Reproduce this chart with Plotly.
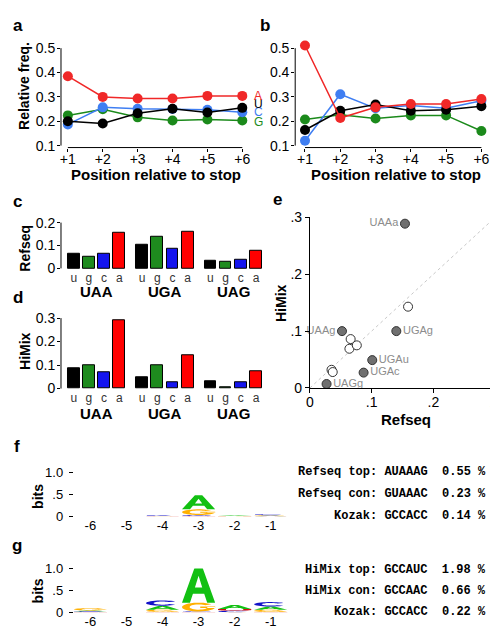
import numpy as np
import plotly.graph_objects as go

W, H = 498, 628

# ---------------- data ----------------
positions = [1, 2, 3, 4, 5, 6]
position_labels = ["+1", "+2", "+3", "+4", "+5", "+6"]
freq_ticks = [0.1, 0.2, 0.3, 0.4, 0.5]
bases = ["A", "U", "C", "G"]

# panel a (Refseq) relative frequencies after stop codon
refseq_pos_A = [0.385, 0.300, 0.293, 0.293, 0.304, 0.304]
refseq_pos_U = [0.200, 0.191, 0.233, 0.251, 0.236, 0.255]
refseq_pos_C = [0.187, 0.257, 0.251, 0.250, 0.247, 0.237]
refseq_pos_G = [0.224, 0.249, 0.216, 0.203, 0.207, 0.203]

# panel b (HiMix)
himix_pos_A = [0.511, 0.213, 0.257, 0.271, 0.271, 0.291]
himix_pos_U = [0.164, 0.243, 0.269, 0.243, 0.247, 0.262]
himix_pos_C = [0.120, 0.311, 0.253, 0.265, 0.253, 0.284]
himix_pos_G = [0.207, 0.227, 0.211, 0.224, 0.224, 0.160]

# panels c, d: stop codon + following base
stop_codons = ["UAA", "UGA", "UAG"]
next_bases = ["u", "g", "c", "a"]
refseq_UAA = [0.066, 0.052, 0.064, 0.154]
refseq_UGA = [0.101, 0.140, 0.087, 0.159]
refseq_UAG = [0.035, 0.027, 0.037, 0.076]
himix_UAA = [0.086, 0.100, 0.069, 0.289]
himix_UGA = [0.049, 0.100, 0.027, 0.143]
himix_UAG = [0.032, 0.007, 0.028, 0.075]
refseq_bar_ticks = [0, 0.1, 0.2]
himix_bar_ticks = [0, 0.1, 0.2, 0.3]

# panel e
highlighted = ["UAAa", "UAAg", "UGAg", "UGAu", "UGAc", "UAGg"]
label_left = ["UAAa", "UAAg"]
scatter_ticks = [0, 0.1, 0.2, 0.3]
scatter_tick_labels = ["0", ".1", ".2", ".3"]

# panels f, g: sequence logos (bits)
logo_positions = [-6, -5, -4, -3, -2, -1]
logo_ticks = [0, 0.5, 1.0]
logo_tick_labels = ["0", ".5", "1.0"]
refseq_bits_A = [0.0, 0.0, 0.005, 0.32, 0.015, 0.012]
refseq_bits_C = [0.0, 0.0, 0.018, 0.020, 0.003, 0.020]
refseq_bits_G = [0.0, 0.0, 0.004, 0.13, 0.003, 0.012]
refseq_bits_U = [0.0, 0.0, 0.003, 0.012, 0.002, 0.004]
himix_bits_A = [0.020, 0.0, 0.090, 0.82, 0.090, 0.075]
himix_bits_C = [0.015, 0.0, 0.120, 0.012, 0.035, 0.100]
himix_bits_G = [0.050, 0.0, 0.050, 0.20, 0.005, 0.050]
himix_bits_U = [0.010, 0.0, 0.012, 0.010, 0.040, 0.010]

refseq_text = [("Refseq top:", "AUAAAG", "0.55"), ("Refseq con:", "GUAAAC", "0.23"), ("Kozak:", "GCCACC", "0.14")]
himix_text = [("HiMix top:", "GCCAUC", "1.98"), ("HiMix con:", "GCCAAC", "0.66"), ("Kozak:", "GCCACC", "0.22")]

# ---------------- style ----------------
SANS = "Liberation Sans, Arial, sans-serif"
MONO = "Liberation Mono, Courier New, monospace"
line_colors = {"A": "#f02828", "U": "#000000", "C": "#3f7ef2", "G": "#1b8a1b"}
bar_colors = ["#000000", "#1e8b1e", "#1414ee", "#ff0000"]
logo_colors = {"A": "#12c012", "C": "#1212c8", "G": "#ffb000", "U": "#d01010"}


def xd(p0, p1):
    return [p0 / W, p1 / W]


def yd(top, bottom):
    return [1 - bottom / H, 1 - top / H]


def lin(p1, v1, p2, v2, pa, pb):
    s = (v2 - v1) / (p2 - p1)
    return [v1 + (pa - p1) * s, v1 + (pb - p1) * s]


fig = go.Figure()
shapes = []
annotations = []

# ---------------- panels a, b ----------------
series_a = {"A": refseq_pos_A, "U": refseq_pos_U, "C": refseq_pos_C, "G": refseq_pos_G}
series_b = {"A": himix_pos_A, "U": himix_pos_U, "C": himix_pos_C, "G": himix_pos_G}
label_shift_a = {"A": 0, "U": 4, "C": 0, "G": -1}
label_shift_b = {"A": 3, "U": -4, "C": -1, "G": 0}
for series, xa, ya, shifts, xs in [(series_a, "x", "y", label_shift_a, 10),
                                    (series_b, "x2", "y2", label_shift_b, 7)]:
    for b in ["G", "C", "U", "A"]:
        fig.add_trace(go.Scatter(x=positions, y=series[b], mode="lines+markers",
                                 line=dict(color=line_colors[b], width=1.5),
                                 marker=dict(color=line_colors[b], size=10),
                                 xaxis=xa, yaxis=ya, cliponaxis=False, showlegend=False))
        annotations.append(dict(x=positions[-1], y=series[b][-1], xref=xa, yref=ya, text=b,
                                showarrow=False, xanchor="left", yanchor="middle",
                                xshift=xs, yshift=shifts[b],
                                font=dict(family=SANS, size=12, color=line_colors[b])))
    shapes.append(dict(type="line", xref=xa + " domain", yref=ya, x0=0, x1=0,
                       y0=freq_ticks[0], y1=freq_ticks[-1], line=dict(color="black", width=1)))
    shapes.append(dict(type="line", xref=xa, yref=ya + " domain", x0=positions[0], x1=positions[-1],
                       y0=0, y1=0, line=dict(color="black", width=1)))

# ---------------- panels c, d ----------------
bar_x = [g * 4.5 + i for g in range(3) for i in range(4)]
refseq_bars = refseq_UAA + refseq_UGA + refseq_UAG
himix_bars = himix_UAA + himix_UGA + himix_UAG
for vals, xa, ya, ticks in [(refseq_bars, "x3", "y3", refseq_bar_ticks),
                            (himix_bars, "x4", "y4", himix_bar_ticks)]:
    fig.add_trace(go.Bar(x=bar_x, y=vals, width=0.77, marker=dict(color=bar_colors * 3,
                         line=dict(color="black", width=1)), xaxis=xa, yaxis=ya, showlegend=False))
    shapes.append(dict(type="line", xref=xa + " domain", yref=ya, x0=0, x1=0,
                       y0=ticks[0], y1=ticks[-1], line=dict(color="black", width=1)))

group_centers = [g * 4.5 + 1.5 for g in range(3)]
for gi, codon in enumerate(stop_codons):
    for xa, ypx in [("x3", 283), ("x4", 408)]:
        annotations.append(dict(x=group_centers[gi], y=1 - ypx / H, xref=xa, yref="paper",
                                text=f"<b>{codon}</b>", showarrow=False,
                                font=dict(family=SANS, size=15, color="black"), yanchor="middle"))

# ---------------- panel e ----------------
names = [c + b for c in stop_codons for b in next_bases]
hl = [n in highlighted for n in names]
open_x = [x for x, h in zip(refseq_bars, hl) if not h]
open_y = [y for y, h in zip(himix_bars, hl) if not h]
fill_x = [x for x, h in zip(refseq_bars, hl) if h]
fill_y = [y for y, h in zip(himix_bars, hl) if h]
fill_n = [n for n, h in zip(names, hl) if h]
shapes.append(dict(type="line", xref="x5", yref="y5", x0=scatter_ticks[0], y0=scatter_ticks[0],
                   x1=scatter_ticks[-1], y1=scatter_ticks[-1],
                   line=dict(color="#c8c8c8", width=1, dash="dot"), layer="below"))
fig.add_trace(go.Scatter(x=open_x, y=open_y, mode="markers", xaxis="x5", yaxis="y5",
                         marker=dict(size=9, color="white", line=dict(color="#333333", width=1)),
                         cliponaxis=False, showlegend=False))
fig.add_trace(go.Scatter(x=fill_x, y=fill_y, mode="markers+text", xaxis="x5", yaxis="y5",
                         text=fill_n,
                         textposition=["middle left" if n in label_left else "middle right" for n in fill_n],
                         textfont=dict(family=SANS, size=11, color="#8c8c8c"),
                         marker=dict(size=9, color="#707070", line=dict(color="#333333", width=1)),
                         cliponaxis=False, showlegend=False))


# ---------------- panels f, g (logos) ----------------
def glyph(letter):
    if letter == "A":
        outer = [(0, 0), (0.39, 1), (0.61, 1), (1, 0), (0.76, 0), (0.67, 0.25), (0.33, 0.25), (0.24, 0)]
        hole = [(0.39, 0.42), (0.61, 0.42), (0.5, 0.75)]
        return [outer, hole]
    if letter in ("C", "G"):
        a1 = 2 * np.pi * (320 / 360) if letter == "C" else 2 * np.pi
        ts = np.linspace(np.deg2rad(40), a1, 30)
        ring = [(0.5 + 0.5 * np.cos(t), 0.5 + 0.5 * np.sin(t)) for t in ts] + \
               [(0.5 + 0.27 * np.cos(t), 0.5 + 0.3 * np.sin(t)) for t in ts[::-1]]
        if letter == "C":
            return [ring]
        bar = [(0.55, 0.4), (1.0, 0.4), (1.0, 0.55), (0.55, 0.55)]
        return [ring, bar]
    # U
    ts = np.linspace(np.pi, 2 * np.pi, 20)
    pts = [(0, 1), (0, 0.4)] + [(0.5 + 0.5 * np.cos(t), 0.4 + 0.4 * np.sin(t)) for t in ts] + \
          [(1, 1), (0.76, 1), (0.76, 0.4)] + \
          [(0.5 + 0.26 * np.cos(t), 0.4 + 0.2 * np.sin(t)) for t in ts[::-1]] + [(0.24, 1)]
    return [pts]


def glyph_path(letter, xc, base, h):
    parts = []
    for poly in glyph(letter):
        pts = [(xc - 0.46 + u * 0.92, base + v * h) for u, v in poly]
        parts.append("M" + " L".join(f"{x:.5f},{y:.6f}" for x, y in pts) + " Z")
    return " ".join(parts)


for bits, xa, ya in [({"A": refseq_bits_A, "C": refseq_bits_C, "G": refseq_bits_G, "U": refseq_bits_U}, "x6", "y6"),
                     ({"A": himix_bits_A, "C": himix_bits_C, "G": himix_bits_G, "U": himix_bits_U}, "x7", "y7")]:
    fig.add_trace(go.Scatter(x=logo_positions, y=[0] * len(logo_positions), mode="markers",
                             marker=dict(size=1, opacity=0), xaxis=xa, yaxis=ya, showlegend=False,
                             hoverinfo="skip"))
    for i, p in enumerate(logo_positions):
        stack = sorted([(bits[b][i], b) for b in ["A", "C", "G", "U"]])
        base = 0.0
        for h, b in stack:
            if h <= 0:
                continue
            shapes.append(dict(type="path", xref=xa, yref=ya, path=glyph_path(b, p, base, h),
                               fillcolor=logo_colors[b], line=dict(width=0)))
            base += h

for lines, ys in [(refseq_text, [468, 491, 513]), (himix_text, [568, 590, 612])]:
    for (lab, seq, pct), ypx in zip(lines, ys):
        annotations.append(dict(x=486 / W, y=1 - ypx / H, xref="paper", yref="paper",
                                text=f"<b>{lab} {seq}  {pct} %</b>", showarrow=False,
                                xanchor="right", yanchor="middle",
                                font=dict(family=MONO, size=12, color="black")))


# ---------------- titles and panel letters ----------------
def txt(x, y, s, size=14, bold=True, angle=0, color="black"):
    annotations.append(dict(x=x / W, y=1 - y / H, xref="paper", yref="paper",
                            text=f"<b>{s}</b>" if bold else s, showarrow=False, textangle=angle,
                            xanchor="center", yanchor="middle",
                            font=dict(family=SANS, size=size, color=color)))


for s, x, y in [("a", 6, 10), ("b", 258, 10), ("c", 6, 190), ("d", 6, 289), ("e", 271, 188),
                ("f", 5, 442), ("g", 5, 543)]:
    txt(x, y, s, size=17)
txt(12, 72, "Relative freq.", 14, angle=-90)
txt(147, 163, "Position relative to stop", 15)
txt(392, 163, "Position relative to stop", 15)
txt(13, 238, "Refseq", 14, angle=-90)
txt(13, 344, "HiMix", 14, angle=-90)
txt(274, 294, "HiMix", 14, angle=-90)
txt(402, 414, "Refseq", 15)
txt(27, 493, "bits", 14, angle=-90)
txt(27, 590, "bits", 14, angle=-90)


# ---------------- axes ----------------
def axis(**kw):
    d = dict(showgrid=False, zeroline=False, showline=False, ticks="outside", ticklen=3,
             tickwidth=1, tickcolor="black", tickfont=dict(family=SANS, size=14, color="black"),
             fixedrange=True)
    d.update(kw)
    return d


layout = dict(
    width=W, height=H, margin=dict(l=0, r=0, t=0, b=0), paper_bgcolor="white",
    plot_bgcolor="rgba(0,0,0,0)", showlegend=False, font=dict(family=SANS),
    xaxis=axis(domain=xd(50, 245), range=lin(57, 1, 235, 6, 50, 245), tickvals=positions,
               ticktext=position_labels, anchor="y", ticklabelstandoff=-4),
    yaxis=axis(domain=yd(28, 135), range=lin(133, 0.1, 33, 0.5, 135, 28), tickvals=freq_ticks,
               ticktext=[f"{v:.1f}" for v in freq_ticks], anchor="x", ticklabelstandoff=-1),
    xaxis2=axis(domain=xd(289, 485), range=lin(299, 1, 479, 6, 289, 485), tickvals=positions,
                ticktext=position_labels, anchor="y2", ticklabelstandoff=-4),
    yaxis2=axis(domain=yd(28, 135), range=lin(133, 0.1, 33, 0.5, 135, 28), tickvals=freq_ticks,
                ticktext=[f"{v:.1f}" for v in freq_ticks], anchor="x2", ticklabelstandoff=-1),
    xaxis3=axis(domain=xd(50, 262), range=lin(63, 0, 249, 12, 50, 262), tickvals=bar_x,
                ticktext=next_bases * 3, ticks="", anchor="y3",
                tickfont=dict(family=SANS, size=12, color="#333333")),
    yaxis3=axis(domain=yd(205, 260), range=lin(259, 0, 212, 0.2, 260, 205), tickvals=refseq_bar_ticks,
                ticktext=["0", "0.1", "0.2"], anchor="x3", ticklabelstandoff=-1),
    xaxis4=axis(domain=xd(50, 262), range=lin(63, 0, 249, 12, 50, 262), tickvals=bar_x,
                ticktext=next_bases * 3, ticks="", anchor="y4",
                tickfont=dict(family=SANS, size=12, color="#333333")),
    yaxis4=axis(domain=yd(304, 383), range=lin(382.3, 0, 310, 0.3, 383, 304), tickvals=himix_bar_ticks,
                ticktext=["0", "0.1", "0.2", "0.3"], anchor="x4", ticklabelstandoff=-1),
    xaxis5=axis(domain=xd(304, 493), range=[0, 0.3], tickvals=scatter_ticks,
                ticktext=scatter_tick_labels, showline=True, linecolor="black", anchor="y5",
                ticklen=4, ticklabelstandoff=-3),
    yaxis5=axis(domain=yd(206.7, 381.7), range=[0, 0.3], tickvals=scatter_ticks,
                ticktext=scatter_tick_labels, showline=True, linecolor="black", anchor="x5", ticklen=4),
    xaxis6=axis(domain=xd(63, 290), range=lin(80, -6, 264, -1, 63, 290), tickvals=logo_positions,
                ticktext=[str(p) for p in logo_positions], ticks="", anchor="y6",
                tickfont=dict(family=SANS, size=13, color="black")),
    yaxis6=axis(domain=yd(468.5, 513.5), range=[0, 1.0], tickvals=logo_ticks, ticktext=logo_tick_labels,
                ticklen=4, anchor="x6", ticklabelstandoff=3,
                tickfont=dict(family=SANS, size=13, color="black")),
    xaxis7=axis(domain=xd(63, 290), range=lin(80, -6, 264, -1, 63, 290), tickvals=logo_positions,
                ticktext=[str(p) for p in logo_positions], ticks="", anchor="y7",
                tickfont=dict(family=SANS, size=13, color="black")),
    yaxis7=axis(domain=yd(567, 612), range=[0, 1.0], tickvals=logo_ticks, ticktext=logo_tick_labels,
                ticklen=4, anchor="x7", ticklabelstandoff=3,
                tickfont=dict(family=SANS, size=13, color="black")),
    shapes=shapes, annotations=annotations, bargap=0,
)
fig.update_layout(**layout)
fig.write_html("out.html")
